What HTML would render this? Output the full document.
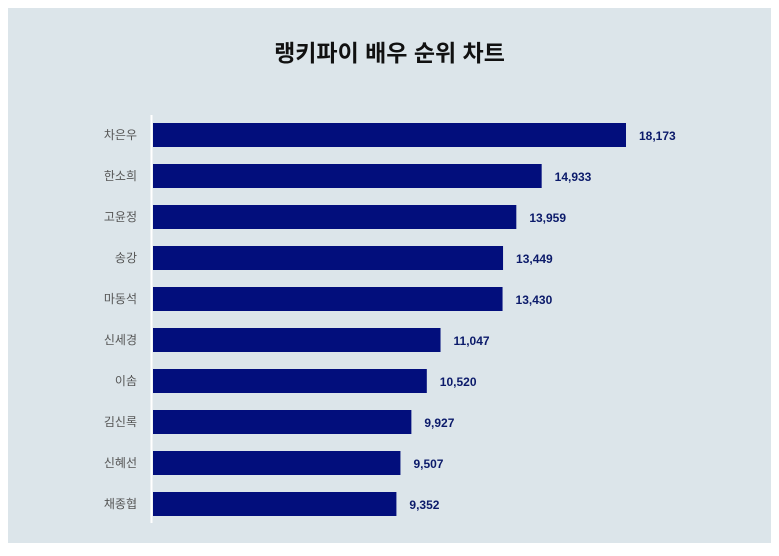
<!DOCTYPE html>
<html><head><meta charset="utf-8"><style>
html,body{margin:0;padding:0;background:#fff;}
body{width:779px;height:551px;overflow:hidden;font-family:"Liberation Sans","Noto Sans CJK KR",sans-serif;}
</style></head><body>
<svg width="779" height="551" xmlns="http://www.w3.org/2000/svg">
<rect x="8" y="8" width="763" height="535" fill="#dce5ea"/>
<text x="389.5" y="61" text-anchor="middle" font-size="23" font-weight="bold" fill="#111" font-family="Liberation Sans, Noto Sans CJK KR, sans-serif">랭키파이 배우 순위 차트</text>
<g id="bars"></g>
<line x1="151.5" y1="115" x2="151.5" y2="523" stroke="#fff" stroke-width="2"/>
</svg>
<script>
const categories=["차은우","한소희","고윤정","송강","마동석","신세경","이솜","김신록","신혜선","채종협"];
const values=[18173,14933,13959,13449,13430,11047,10520,9927,9507,9352];
const valueLabels=["18,173","14,933","13,959","13,449","13,430","11,047","10,520","9,927","9,507","9,352"];
const x0=153,scale=473/18173;
const xs=v=>x0+v*scale;
const ys=i=>135+i*41;
const g=document.getElementById('bars');
const NS="http://www.w3.org/2000/svg";
categories.forEach((c,i)=>{
  const r=document.createElementNS(NS,'rect');
  r.setAttribute('x',x0);r.setAttribute('y',ys(i)-12);
  r.setAttribute('width',xs(values[i])-x0);r.setAttribute('height',24);
  r.setAttribute('fill','#020e7c');
  
  
  g.appendChild(r);
  const t=document.createElementNS(NS,'text');
  t.setAttribute('x',137);t.setAttribute('y',ys(i)+4);
  t.setAttribute('text-anchor','end');t.setAttribute('font-size','12');t.setAttribute('fill','#555');
  t.textContent=c;
  
  
  g.appendChild(t);
  const v=document.createElementNS(NS,'text');
  v.setAttribute('x',xs(values[i])+13);v.setAttribute('y',ys(i)+5);
  v.setAttribute('font-size','12');v.setAttribute('font-weight','bold');v.setAttribute('fill','#0b1a6a');
  v.textContent=valueLabels[i];
  
  
  g.appendChild(v);
});
</script>
</body></html>
